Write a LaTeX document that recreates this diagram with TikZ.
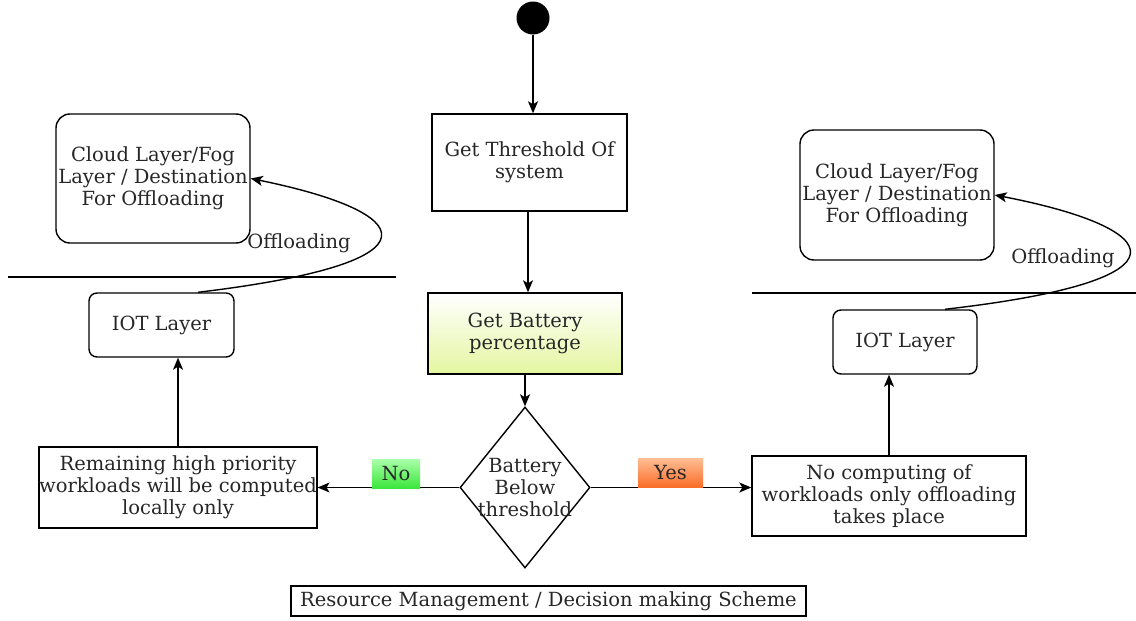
\documentclass[tikz,border=0pt]{standalone}
\usepackage{fontspec}
\setmainfont{DejaVu Serif}
\usetikzlibrary{shapes.geometric,arrows.meta}

\definecolor{battlo}{RGB}{228,246,160}
\definecolor{nolo}{RGB}{60,230,60}
\definecolor{nohi}{RGB}{170,255,170}
\definecolor{yeslo}{RGB}{250,110,40}
\definecolor{yeshi}{RGB}{255,190,150}

\begin{document}
\begin{tikzpicture}[x=1pt,y=-1pt,
        font=\fontsize{19.5}{22}\selectfont,
        every node/.style={text=black!85, align=center},
        box/.style={draw, line width=1.4pt, inner sep=0pt},
        roundbox/.style={box, rounded corners=14pt},
        flow/.style={line width=1.4pt, -{Stealth[length=12pt,width=10pt,inset=3pt]}},
        tag/.style={inner sep=0pt, minimum height=29pt}]
    \useasboundingbox (0,0) rectangle (1136,621);

    % centre column
    \node[circle, fill=black, minimum size=33pt, inner sep=0pt] (start) at (533,18) {};
    \node[box, minimum width=195pt, minimum height=97pt] (threshold) at (529.5,162.5) {Get Threshold Of\\system};
    \node[box, minimum width=194pt, minimum height=81pt, top color=white, bottom color=battlo] (battery) at (525,333.5) {Get Battery\\percentage};
    \node[diamond, draw, line width=1.4pt, minimum width=130pt, minimum height=161pt, aspect=0.8, inner sep=0pt] (decision) at (525,487.5) {};
    \node at (525,487.5) {Battery\\Below\\threshold};

    % outcomes
    \node[box, minimum width=276pt, minimum height=81pt] (local) at (178,487.5) {Remaining high priority\\workloads will be computed\\locally only};
    \node[box, minimum width=274pt, minimum height=80pt] (offload) at (889,496) {No computing of\\workloads only offloading\\takes place};

    % layers
    \node[roundbox, minimum width=145pt, minimum height=64pt, rounded corners=8pt] (iotL) at (161.5,325) {IOT Layer};
    \node[roundbox, minimum width=144pt, minimum height=64pt, rounded corners=8pt] (iotR) at (905,342) {IOT Layer};
    \node[roundbox, minimum width=194pt, minimum height=129pt] (cloudL) at (153,178.5) {Cloud Layer/Fog\\Layer / Destination\\For Offloading};
    \node[roundbox, minimum width=194pt, minimum height=130pt] (cloudR) at (897,195) {Cloud Layer/Fog\\Layer / Destination\\For Offloading};

    \coordinate (sepLa) at (8,277);
    \coordinate (sepLb) at (396,277);
    \coordinate (sepRa) at (752,293);
    \coordinate (sepRb) at (1136,293);
    \draw[line width=1.4pt] (sepLa) -- (sepLb);
    \draw[line width=1.4pt] (sepRa) -- (sepRb);

    \node[box, minimum width=515pt, minimum height=30pt] (scheme) at (548.5,601) {Resource Management / Decision making Scheme};

    % connectors
    \draw[flow] (start.south) -- (start.south |- threshold.north);
    \draw[flow] (threshold.south -| 528,0) -- (battery.north -| 528,0);
    \draw[flow] (battery) -- (decision);
    \draw[flow] (decision.west) -- (decision.west -| local.east);
    \draw[flow] (decision.east) -- (decision.east -| offload.west);
    \draw[flow] (local.north) -- (local.north |- iotL.south);
    \draw[flow] (offload.north) -- (offload.north |- iotR.south);
    \draw[flow] (iotL.north -| 198,0) .. controls (450,262) and (415,212) .. (cloudL.east);
    \draw[flow] (iotR.north -| 945,0) .. controls (1200,280) and (1165,228) .. (cloudR.east);

    \node[tag, minimum width=48pt, top color=nohi, bottom color=nolo] (no) at (396,473.5) {No};
    \node[tag, minimum width=65pt, top color=yeshi, bottom color=yeslo] (yes) at (670.5,472.5) {Yes};
    \node (offL) at (299,243) {Offloading};
    \node (offR) at (1063,258) {Offloading};
\end{tikzpicture}
\end{document}
